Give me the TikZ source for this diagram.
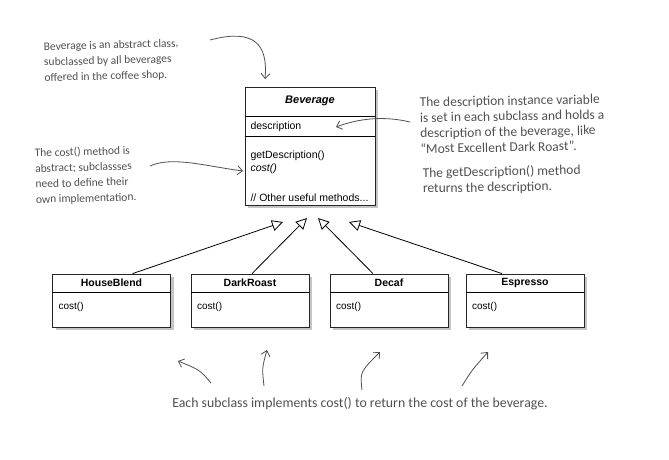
\documentclass[tikz,border=0pt]{standalone}
\usepackage{fontspec}
\setmainfont{Liberation Sans}
\newfontfamily\handfont{Carlito}
\usetikzlibrary{arrows.meta,shadows}

\definecolor{pencil}{HTML}{505050}

\begin{document}
\begin{tikzpicture}[x=1pt, y=-1pt,
  umlbox/.style={draw=black!85, line width=0.8pt, fill=white, inner sep=0pt,
    drop shadow={shadow xshift=3pt, shadow yshift=-3pt, fill=black!45}},
  note/.style={font=\handfont\fontsize{#1}{15.5}\selectfont, text=pencil, align=left},
  note/.default=11.5,
  hand/.style={-{Straight Barb[length=5pt,width=9pt]}, pencil, line width=0.8pt},
  inherit/.style={-{Triangle[open,length=11pt,width=11pt,fill=white]}, line width=0.8pt}]
\useasboundingbox (0,0) rectangle (669,459);

% Superclass
\node[umlbox, minimum width=130pt, minimum height=118pt] (bev) at (310,146) {};
\draw[line width=0.8pt] ([yshift=-30pt]bev.north west) -- ([yshift=-30pt]bev.north east);
\draw[line width=0.8pt] ([yshift=-50pt]bev.north west) -- ([yshift=-50pt]bev.north east);
\node[font=\fontsize{11}{13}\selectfont\bfseries\itshape] (bev-name) at (310,101) {Beverage};
\node[anchor=west, font=\fontsize{10.5}{12}\selectfont] (bev-desc) at (247,127) {description};
\node[anchor=west, font=\fontsize{10.5}{12}\selectfont] (bev-get) at (247,156) {getDescription()};
\node[anchor=west, font=\fontsize{10.5}{12}\selectfont\itshape] (bev-cost) at (247,169) {cost()};
\node[anchor=west, font=\fontsize{10.5}{12}\selectfont] (bev-other) at (247,198) {// Other useful methods...};

% Subclasses
\coordinate (t-hb) at (283,222);
\coordinate (t-dr) at (307,218);
\coordinate (t-dc) at (318,218);
\coordinate (t-es) at (349,222);
\foreach \id/\name/\cx/\dx in {hb/HouseBlend/111.5/21, dr/DarkRoast/250/2, dc/Decaf/389/-16, es/Espresso/525/-23} {
  \node[umlbox, minimum width=118pt, minimum height=53pt] (\id) at (\cx,300.5) {};
  \draw[line width=0.8pt] ([yshift=-19pt]\id.north west) -- ([yshift=-19pt]\id.north east);
  \node[font=\fontsize{10.5}{12}\selectfont\bfseries] (\id-name) at ([yshift=-9.5pt]\id.north) {\name};
  \node[anchor=west, font=\fontsize{10}{12}\selectfont] (\id-op) at ([xshift=3pt,yshift=-33pt]\id.north west) {cost()};
  \draw[inherit] ([xshift=\dx pt]\id.north) -- (t-\id);
}

% Notes
\node[note, anchor=north west, rotate=1.5] (n-abstract) at (40,39) {Beverage is an abstract class,\\subclassed by all beverages\\offered in the coffee shop.};
\coordinate (a-abstract) at (265,79);
\draw[hand] (210,40) .. controls (255,28) and (268,45) .. (a-abstract);

\node[note=13.5, anchor=north west, rotate=1] (n-desc) at (416,94) {The description instance variable\\is set in each subclass and holds a\\description of the beverage, like\\“Most Excellent Dark Roast”.};
\node[note=13.5, anchor=north west, rotate=1] (n-get) at (419,164) {The getDescription() method\\returns the description.};
\coordinate (a-desc) at (336,127);
\draw[hand] (410,122) .. controls (385,116) and (360,118) .. (a-desc);

\node[note, anchor=north west, rotate=1.5] (n-cost) at (31,145) {The cost() method is\\abstract; subclassses\\need to define their\\own implementation.};
\coordinate (a-cost) at (243,171);
\draw[hand] (150,166) .. controls (172,156) and (205,166) .. (a-cost);

\node[note=13.8] (n-each) at (360,404) {Each subclass implements cost() to return the cost of the beverage.};
\coordinate (a-hb) at (178,361);
\coordinate (a-dr) at (267,350);
\coordinate (a-dc) at (380,352);
\coordinate (a-es) at (488,352);
\draw[hand] (211,383) .. controls (200,370) .. (a-hb);
\draw[hand] (264,386) .. controls (262,368) .. (a-dr);
\draw[hand] (362,390) .. controls (360,372) .. (a-dc);
\draw[hand] (462,386) .. controls (472,370) .. (a-es);
\end{tikzpicture}
\end{document}
